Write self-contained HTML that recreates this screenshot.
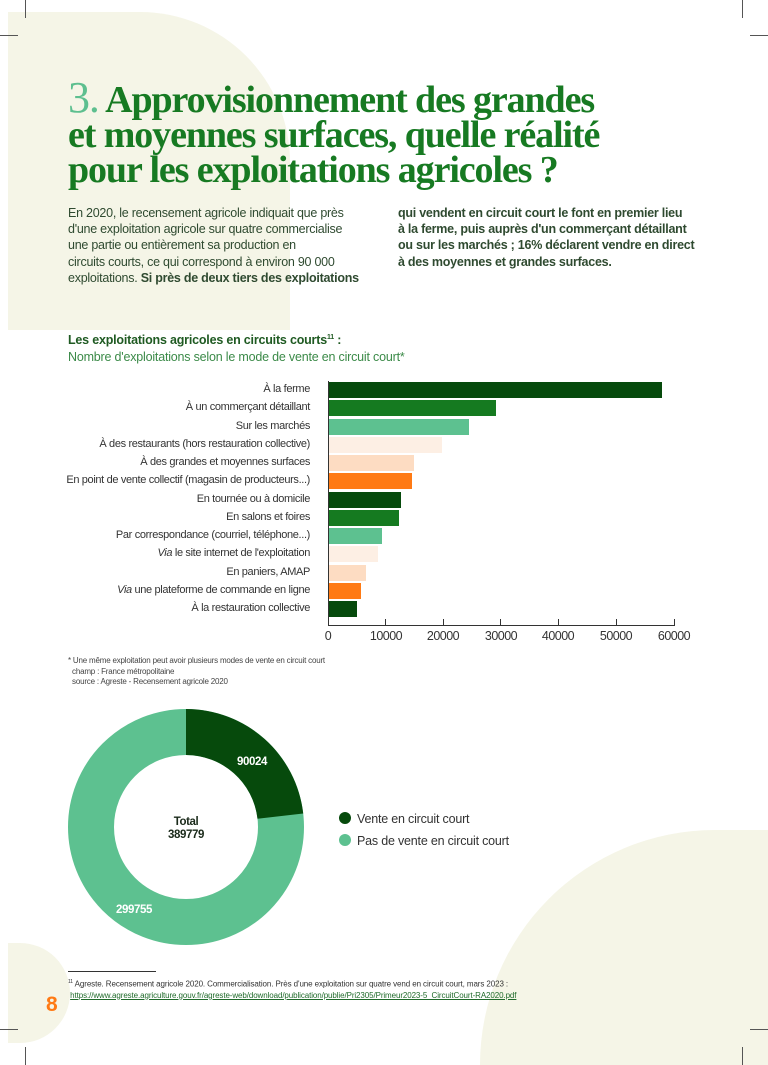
<!DOCTYPE html>
<html><head><meta charset="utf-8"><style>
*{margin:0;padding:0;box-sizing:border-box}
html,body{width:768px;height:1065px;overflow:hidden;background:#fff}
body{font-family:"Liberation Sans",sans-serif;}
#w{position:relative;width:768px;height:1065px;overflow:hidden}
.a{position:absolute}
.bg{background:#f5f5e7}
.t{font-family:"Liberation Serif",serif;font-weight:bold;color:#177a22;font-size:38px;letter-spacing:-1.1px;white-space:nowrap;line-height:35px}
.p{font-size:12.5px;color:#2f4a30;line-height:16.2px;white-space:nowrap;letter-spacing:-0.25px}
.lab{position:absolute;right:458px;font-size:11px;letter-spacing:-0.35px;color:#333;white-space:nowrap;line-height:14px}
.bar{position:absolute;left:329px;height:16px}
.tk{position:absolute;top:629px;font-size:12.5px;color:#333;transform:translateX(-50%);letter-spacing:-0.5px}
.tl{position:absolute;top:619px;width:1px;height:7px;background:#333}
.mk{position:absolute;background:#555}
</style></head><body><div id="w">
<div class="a bg" style="left:8px;top:12px;width:282px;height:318px;border-radius:0 150px 0 0"></div>
<div class="a bg" style="left:480px;top:830px;width:288px;height:235px;border-radius:310px 0 0 0"></div>
<div class="a bg" style="left:8px;top:943px;width:62px;height:100px;border-radius:0 50px 50px 0"></div>
<div class="mk" style="left:25px;top:0;width:1px;height:18px"></div>
<div class="mk" style="left:0;top:35px;width:18px;height:1px"></div>
<div class="mk" style="left:742px;top:0;width:1px;height:18px"></div>
<div class="mk" style="left:750px;top:35px;width:18px;height:1px"></div>
<div class="mk" style="left:25px;top:1047px;width:1px;height:18px"></div>
<div class="mk" style="left:0;top:1029px;width:18px;height:1px"></div>
<div class="mk" style="left:742px;top:1047px;width:1px;height:18px"></div>
<div class="mk" style="left:750px;top:1029px;width:18px;height:1px"></div>

<div class="a t" style="left:68px;top:80px"><span style="color:#5dbf8f;font-weight:normal;font-size:44px">3.</span> Approvisionnement des grandes<br>et moyennes surfaces, quelle réalité<br>pour les exploitations agricoles ?</div>

<div class="a p" style="left:68px;top:205px">En 2020, le recensement agricole indiquait que près<br>d'une exploitation agricole sur quatre commercialise<br>une partie ou entièrement sa production en<br>circuits courts, ce qui correspond à environ 90 000<br>exploitations. <b>Si près de deux tiers des exploitations</b></div>
<div class="a p" style="left:398px;top:205px;font-weight:bold">qui vendent en circuit court le font en premier lieu<br>à la ferme, puis auprès d'un commerçant détaillant<br>ou sur les marchés ; 16% déclarent vendre en direct<br>à des moyennes et grandes surfaces.</div>

<div class="a" style="left:68px;top:333px;font-size:12.5px;color:#1f5a22;font-weight:bold;letter-spacing:-0.2px">Les exploitations agricoles en circuits courts<sup style="font-size:7px">11</sup> :</div>
<div class="a" style="left:68px;top:350px;font-size:12.5px;color:#3b8a48;letter-spacing:-0.2px">Nombre d'exploitations selon le mode de vente en circuit court*</div>

<div class="lab" style="top:382px">À la ferme</div>
<div class="lab" style="top:400px">À un commerçant détaillant</div>
<div class="lab" style="top:419px">Sur les marchés</div>
<div class="lab" style="top:437px">À des restaurants (hors restauration collective)</div>
<div class="lab" style="top:455px">À des grandes et moyennes surfaces</div>
<div class="lab" style="top:473px">En point de vente collectif (magasin de producteurs...)</div>
<div class="lab" style="top:492px">En tournée ou à domicile</div>
<div class="lab" style="top:510px">En salons et foires</div>
<div class="lab" style="top:528px">Par correspondance (courriel, téléphone...)</div>
<div class="lab" style="top:546px"><i>Via</i> le site internet de l'exploitation</div>
<div class="lab" style="top:565px">En paniers, AMAP</div>
<div class="lab" style="top:583px"><i>Via</i> une plateforme de commande en ligne</div>
<div class="lab" style="top:601px">À la restauration collective</div>

<div class="bar" style="top:382px;width:333px;background:#064a0c"></div>
<div class="bar" style="top:400px;width:167px;background:#157a20"></div>
<div class="bar" style="top:419px;width:140px;background:#5dc190"></div>
<div class="bar" style="top:437px;width:113px;background:#fdefe4"></div>
<div class="bar" style="top:455px;width:85px;background:#fddcc2"></div>
<div class="bar" style="top:473px;width:83px;background:#ff7a14"></div>
<div class="bar" style="top:492px;width:72px;background:#064a0c"></div>
<div class="bar" style="top:510px;width:70px;background:#157a20"></div>
<div class="bar" style="top:528px;width:53px;background:#5dc190"></div>
<div class="bar" style="top:546px;width:49px;background:#fdefe4"></div>
<div class="bar" style="top:565px;width:37px;background:#fddcc2"></div>
<div class="bar" style="top:583px;width:32px;background:#ff7a14"></div>
<div class="bar" style="top:601px;width:28px;background:#064a0c"></div>

<div class="a" style="left:328px;top:381px;width:1px;height:245px;background:#333"></div>
<div class="a" style="left:328px;top:625px;width:347px;height:1px;background:#333"></div>
<div class="tl" style="left:385px"></div><div class="tl" style="left:443px"></div><div class="tl" style="left:500px"></div><div class="tl" style="left:558px"></div><div class="tl" style="left:616px"></div><div class="tl" style="left:674px"></div>
<div class="tk" style="left:328px">0</div><div class="tk" style="left:386px">10000</div><div class="tk" style="left:443px">20000</div><div class="tk" style="left:501px">30000</div><div class="tk" style="left:558px">40000</div><div class="tk" style="left:616px">50000</div><div class="tk" style="left:674px">60000</div>

<div class="a" style="left:68px;top:656px;font-size:8px;color:#444;line-height:10.5px;letter-spacing:-0.2px">* Une même exploitation peut avoir plusieurs modes de vente en circuit court<br>&nbsp;&nbsp;champ : France métropolitaine<br>&nbsp;&nbsp;source : Agreste - Recensement agricole 2020</div>

<svg class="a" style="left:0;top:690px" width="768" height="280">
<circle cx="186" cy="137" r="95" fill="none" stroke="#5dc190" stroke-width="46"/>
<path d="M186 19 A118 118 0 0 1 303.2 123.5 L257.5 128.7 A72 72 0 0 0 186 65 Z" fill="#064a0c"/>
<g font-family="Liberation Sans" font-weight="bold" font-size="11.5" text-anchor="middle" letter-spacing="-0.4">
<text x="252" y="75" fill="#fff">90024</text>
<text x="134" y="223" fill="#fff">299755</text>
<text x="186" y="135" fill="#1a2a1a">Total</text>
<text x="186" y="148" fill="#1a2a1a">389779</text>
</g>
<circle cx="345" cy="128" r="6" fill="#064a0c"/>
<circle cx="345" cy="150" r="6" fill="#5dc190"/>
<text x="357" y="133" font-family="Liberation Sans" font-size="12.5" fill="#333" letter-spacing="-0.2">Vente en circuit court</text>
<text x="357" y="155" font-family="Liberation Sans" font-size="12.5" fill="#333" letter-spacing="-0.2">Pas de vente en circuit court</text>
</svg>

<div class="a" style="left:68px;top:971px;width:88px;height:1px;background:#333"></div>
<div class="a" style="left:68px;top:977px;font-size:8px;color:#333;line-height:11px;white-space:nowrap;letter-spacing:-0.1px"><sup style="font-size:5px">11</sup> Agreste. Recensement agricole 2020. Commercialisation. Près d'une exploitation sur quatre vend en circuit court, mars 2023 :<br>&nbsp;<span style="text-decoration:underline;color:#1f6a2a">https://www.agreste.agriculture.gouv.fr/agreste-web/download/publication/publie/Pri2305/Primeur2023-5_CircuitCourt-RA2020.pdf</span></div>
<div class="a" style="left:46px;top:993px;font-size:21px;font-weight:bold;color:#ff7a14">8</div>
</div></body></html>
